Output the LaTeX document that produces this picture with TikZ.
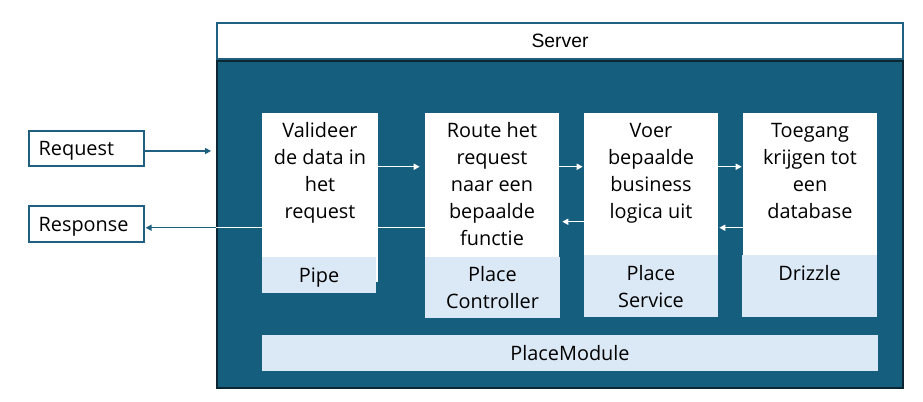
\documentclass[tikz,border=0pt]{standalone}
\usepackage{fontspec}
\setmainfont{Open Sans}
\newfontfamily\arialf{Liberation Sans}
\usetikzlibrary{arrows.meta,fit,calc}
\definecolor{dkblue}{RGB}{22,94,126}
\definecolor{dkborder}{RGB}{12,38,52}
\definecolor{outl}{RGB}{31,95,128}
\definecolor{lightbl}{RGB}{219,232,245}
\begin{document}
\begin{tikzpicture}[x=0.75pt,y=-0.75pt,
  wbox/.style={fill=white,draw=none,inner sep=0pt},
  lbox/.style={fill=lightbl,draw=none,inner sep=0pt},
  obox/.style={fill=white,draw=outl,line width=0.9pt,inner sep=0pt},
  txt/.style={font=\fontsize{14.9}{20.25}\selectfont,align=center,inner sep=0pt,anchor=north},
  ltxt/.style={font=\fontsize{14.9}{20.25}\selectfont,inner sep=0pt,anchor=base west},
  tip/.style={-{Triangle[length=4.5pt,width=4.5pt]}},
  warr/.style={draw=white,line width=1.1pt},
  darr/.style={draw=outl,line width=1.1pt}]
\useasboundingbox (0,0) rectangle (923,402);
% server header
\node[obox,fit={(217,23)(903,59)}] (server) {};
\node[font=\arialf\fontsize{14.5}{17}\selectfont,inner sep=0pt] (servertxt) at (server.center) {Server};
% server body
\node[fill=dkblue,draw=dkborder,line width=1.4pt,inner sep=0pt,fit={(217,61)(903,388)}] (body) {};
% request / response
\node[obox,fit={(29,131)(144,166)}] (req) {};
\node[ltxt] (reqt) at ($(req.south west)+(10,-11)$) {Request};
\node[obox,fit={(29,206)(144,242)}] (resp) {};
\node[ltxt] (respt) at ($(resp.south west)+(10,-11)$) {Response};
% columns
\node[wbox,fit={(262,113)(378,282)}] (pipeW) {};
\node[lbox,fit={(262,257)(376,293)}] (pipeL) {};
\node[wbox,fit={(425,113)(559,257)}] (ctrlW) {};
\node[lbox,fit={(425,257)(560,318)}] (ctrlL) {};
\node[wbox,fit={(584,113)(718,255)}] (servW) {};
\node[lbox,fit={(584,255)(718,317)}] (servL) {};
\node[wbox,fit={(743,113)(877,308)}] (drizW) {};
\node[lbox,fit={(742,255)(877,317)}] (drizL) {};
\node[txt] (pipeT) at ($(pipeW.north)+(0,5.5)$) {\strut Valideer\\de data in\\het\\request};
\node[txt] (ctrlT) at ($(ctrlW.north)+(0,5.5)$) {\strut Route het\\request\\naar een\\bepaalde\\functie};
\node[txt] (servT) at ($(servW.north)+(0,5.5)$) {\strut Voer\\bepaalde\\business\\logica uit};
\node[txt] (drizT) at ($(drizW.north)+(0,5.5)$) {\strut Toegang\\krijgen tot\\een\\database};
\node[txt] (pipeLT) at ($(pipeL.north)+(0,7)$) {\strut Pipe};
\node[txt] (ctrlLT) at ($(ctrlL.north)+(0,5.5)$) {\strut Place\\Controller};
\node[txt] (servLT) at ($(servL.north)+(0,6.5)$) {\strut Place\\Service};
\node[txt] (drizLT) at ($(drizL.north)+(0,6.5)$) {\strut Drizzle};
% module
\node[lbox,fit={(262,335)(878,371)}] (module) {};
\node[font=\fontsize{14.9}{17}\selectfont,inner sep=0pt] (moduleT) at (module.center) {PlaceModule};
% connectors
\coordinate (reqin) at ($(body.west |- req.east)+(-5,2.5)$);
\draw[darr,tip] ($(req.east)+(0,2.5)$) -- (reqin);
\draw[warr,tip] ($(pipeW.north east)+(0,54)$) -- ($(ctrlW.north west)+(-5,54)$);
\draw[warr,tip] ($(ctrlW.north east)+(0,54)$) -- ($(servW.north west)+(-1,54)$);
\draw[warr,tip] ($(servW.north east)+(0,54)$) -- ($(drizW.north west)+(-1,54)$);
\draw[warr,tip] ($(drizW.north west)+(0,115)$) -- ($(servW.north east)+(1,115)$);
\draw[warr,tip] ($(servW.north west)+(0,109)$) -- ($(ctrlW.north east)+(3,109)$);
\draw[warr] ($(ctrlW.north west)+(0,115)$) -- ($(pipeW.north east)+(0,115)$);
\coordinate (respout) at ($(body.west |- pipeW.north)+(0,115)$);
\draw[warr] ($(pipeW.north west)+(0,115)$) -- (respout);
\draw[darr,tip] (respout) -- ($(resp.east |- respout)+(1,0)$);
\end{tikzpicture}
\end{document}
